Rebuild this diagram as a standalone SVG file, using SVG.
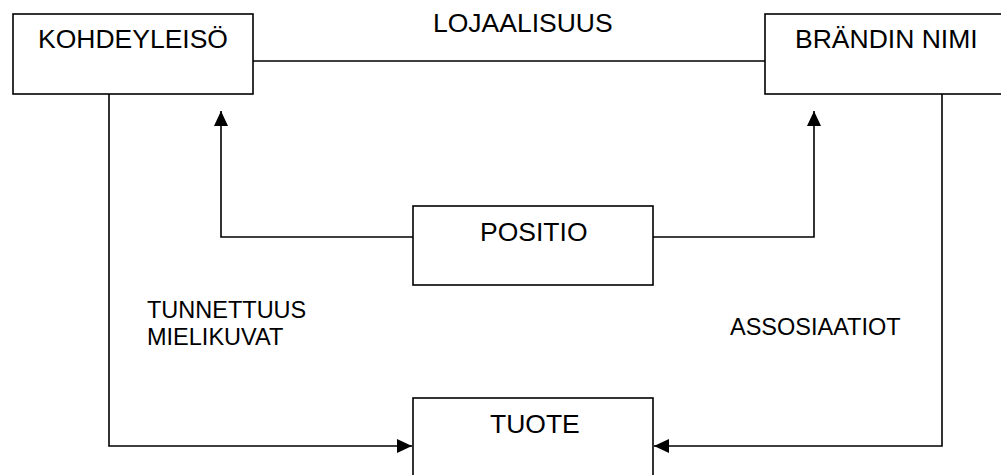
<svg xmlns="http://www.w3.org/2000/svg" width="1001" height="475" viewBox="0 0 1001 475">
<style>
.box{fill:#fff;stroke:#000;stroke-width:1.6}
.ln{fill:none;stroke:#000;stroke-width:1.6}
.t{font-family:"Liberation Sans",Arial,sans-serif;font-size:26.5px;fill:#000}
.s{font-family:"Liberation Sans",Arial,sans-serif;font-size:23.5px;fill:#000}
</style>
<defs>
<marker id="arr" markerUnits="userSpaceOnUse" markerWidth="15" markerHeight="14" refX="15" refY="7" orient="auto" overflow="visible">
<path d="M0,0 L15,7 L0,14 z" fill="#000"/>
</marker>
</defs>
<rect width="1001" height="475" fill="#fff"/>
<g id="connectors">
<line class="ln" x1="253" y1="61" x2="765" y2="61"/>
<polyline class="ln" points="109,94 109,446 412,446" marker-end="url(#arr)"/>
<polyline class="ln" points="942,94 942,446 654,446" marker-end="url(#arr)"/>
<polyline class="ln" points="413,237 221,237 221,111" marker-end="url(#arr)"/>
<polyline class="ln" points="653,237 814,237 814,111" marker-end="url(#arr)"/>
</g>
<g id="kohdeyleiso">
<rect class="box" x="13" y="14" width="240" height="80"/>
<text class="t" x="38" y="48">KOHDEYLEISÖ</text>
</g>
<g id="brandin-nimi">
<rect class="box" x="765" y="14" width="240" height="80"/>
<text class="t" x="795" y="48">BRÄNDIN NIMI</text>
</g>
<g id="positio">
<rect class="box" x="413" y="206" width="240" height="79"/>
<text class="t" x="480" y="241">POSITIO</text>
</g>
<g id="tuote">
<rect class="box" x="413" y="398" width="240" height="90"/>
<text class="t" x="490" y="433">TUOTE</text>
</g>
<g id="labels">
<text class="t" x="433" y="32">LOJAALISUUS</text>
<text class="s" x="147" y="318">TUNNETTUUS</text>
<text class="s" x="147" y="345">MIELIKUVAT</text>
<text class="s" x="730" y="335">ASSOSIAATIOT</text>
</g>
</svg>
